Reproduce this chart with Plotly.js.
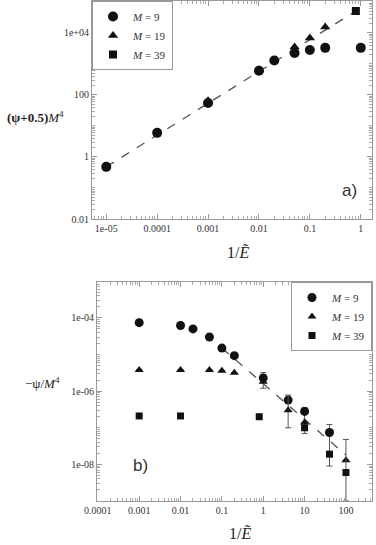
<!DOCTYPE html>
<html>
<head>
<meta charset="utf-8">
<script src="https://cdn.plot.ly/plotly-3.0.1.min.js"></script>
<style>
  html, body { margin: 0; padding: 0; background: #fff; }
  #chart { width: 376px; height: 545px; }
</style>
</head>
<body>
<div id="chart"></div>
<script>
// ---- panel a) : (psi+0.5) M^4 vs 1/E ----
const aM9x  = [1e-5, 1e-4, 1e-3, 0.01, 0.02, 0.05, 0.1, 0.2, 1];
const aM9y  = [0.48, 6, 55, 600, 1300, 2250, 2800, 3300, 3300];
const aM19x = [1e-3, 0.01, 0.05, 0.1, 0.2];
const aM19y = [65, 650, 3550, 6900, 15600];
const aM39x = [0.8];
const aM39y = [51000];
const aFitX = [1e-5, 0.8];
const aFitY = [0.48, 51000];
const aXticks = [1e-5, 1e-4, 1e-3, 0.01, 0.1, 1];
const aXlabels = ["1e-05", "0.0001", "0.001", "0.01", "0.1", "1"];
const aYticks = [0.01, 1, 100, 1e4];
const aYlabels = ["0.01", "1", "100", "1e+04"];

// ---- panel b) : -psi / M^4 vs 1/E ----
const bM9x  = [0.001, 0.01, 0.02, 0.05, 0.1, 0.2, 1, 4, 10, 40];
const bM9y  = [7.4e-5, 6.2e-5, 5e-5, 3e-5, 1.5e-5, 9.3e-6, 2.3e-6, 5.7e-7, 2.8e-7, 7.4e-8];
const bM9errUp   = [0, 0, 0, 0, 0, 0, 0.9e-6, 0, 0.8e-7, 4.9e-8];
const bM9errDown = [0, 0, 0, 0, 0, 0, 1.1e-6, 0, 2.1e-7, 6.5e-8];
const bM19x = [0.001, 0.01, 0.05, 0.1, 0.2, 1, 4, 10, 100];
const bM19y = [3.8e-6, 3.8e-6, 3.8e-6, 3.6e-6, 3.2e-6, 1.8e-6, 3e-7, 1.4e-7, 1.3e-8];
const bM19errUp   = [0, 0, 0, 0, 0, 0, 4.8e-7, 0, 0];
const bM19errDown = [0, 0, 0, 0, 0, 0, 2e-7, 0, 0];
const bM39x = [0.001, 0.01, 0.8, 10, 40, 100];
const bM39y = [2.1e-7, 2.1e-7, 2e-7, 1e-7, 1.9e-8, 6e-9];
const bM39errUp   = [0, 0, 0, 0, 0, 4.2e-8];
const bM39errDown = [0, 0, 0, 0, 0, 5e-9];
const bFitX = [0.1, 100];
const bFitY = [1.5e-5, 1.8e-8];
const bXticks = [1e-4, 1e-3, 0.01, 0.1, 1, 10, 100];
const bXlabels = ["0.0001", "0.001", "0.01", "0.1", "1", "10", "100"];
const bYticks = [1e-4, 1e-6, 1e-8];
const bYlabels = ["1e-04", "1e-06", "1e-08"];

const names = ["<i>M</i> = 9", "<i>M</i> = 19", "<i>M</i> = 39"];
const ink = "#111";
const serif = "Liberation Serif, DejaVu Serif, serif";

// minor ticks: 2..9 inside every decade, plus unlabeled decades
function minorTicks(lo, hi, labeled) {
  const out = [];
  for (let d = Math.floor(lo); d <= Math.ceil(hi); d++) {
    const p = Math.pow(10, d);
    if (!labeled.some(v => Math.abs(Math.log10(v) - d) < 1e-9)) out.push(p);
    for (let k = 2; k <= 9; k++) out.push(k * p);
  }
  return out;
}

const mk = (symbol, size) => ({ symbol, size, color: ink });
const errs = (up, down) => ({
  type: "data", symmetric: false, array: up, arrayminus: down,
  color: "#555", thickness: 1, width: 3
});

const traces = [
  // a)
  { x: aFitX, y: aFitY, mode: "lines", line: { color: "#555", width: 1.3, dash: "dash" },
    showlegend: false, xaxis: "x", yaxis: "y", hoverinfo: "skip" },
  { x: aM9x, y: aM9y, mode: "markers", name: names[0], marker: mk("circle", 10), xaxis: "x", yaxis: "y", legend: "legend" },
  { x: aM19x, y: aM19y, mode: "markers", name: names[1], marker: mk("triangle-up", 9), xaxis: "x", yaxis: "y", legend: "legend" },
  { x: aM39x, y: aM39y, mode: "markers", name: names[2], marker: mk("square", 8), xaxis: "x", yaxis: "y", legend: "legend" },
  // b)
  { x: bFitX, y: bFitY, mode: "lines", line: { color: "#555", width: 1.3, dash: "dash" },
    showlegend: false, xaxis: "x2", yaxis: "y2", hoverinfo: "skip" },
  { x: bM9x, y: bM9y, mode: "markers", name: names[0], marker: mk("circle", 9),
    error_y: errs(bM9errUp, bM9errDown), xaxis: "x2", yaxis: "y2", legend: "legend2" },
  { x: bM19x, y: bM19y, mode: "markers", name: names[1], marker: mk("triangle-up", 8),
    error_y: errs(bM19errUp, bM19errDown), xaxis: "x2", yaxis: "y2", legend: "legend2" },
  { x: bM39x, y: bM39y, mode: "markers", name: names[2], marker: mk("square", 7),
    error_y: errs(bM39errUp, bM39errDown), xaxis: "x2", yaxis: "y2", legend: "legend2" }
];

const axisBase = {
  type: "log",
  showline: true, linecolor: "#999", linewidth: 1, mirror: "ticks",
  ticks: "inside", ticklen: 5, tickcolor: "#999",
  tickfont: { family: serif, size: 10, color: "#333" },
  showgrid: false, zeroline: false,
  tickmode: "array"
};
const minorOf = (lo, hi, labeled) => ({
  tickmode: "array", tickvals: minorTicks(lo, hi, labeled),
  ticks: "inside", ticklen: 3, tickcolor: "#aaa", showgrid: false
});

const legendBase = {
  bgcolor: "#fff", bordercolor: "#999", borderwidth: 1,
  font: { family: serif, size: 11, color: "#333" },
  tracegroupgap: 0, itemwidth: 30
};

const ann = (text, x, y, size, family, color) => ({
  text, x, y, xref: "paper", yref: "paper", showarrow: false,
  xanchor: "center", yanchor: "middle",
  font: { family: family || serif, size, color: color || "#222" }
});

const layout = {
  width: 376, height: 545,
  margin: { l: 0, r: 0, t: 0, b: 0 },
  paper_bgcolor: "#fff", plot_bgcolor: "#fff",
  showlegend: true,
  xaxis: { ...axisBase, domain: [92 / 376, 372 / 376], anchor: "y",
    range: [-5.28, 0.22], tickvals: aXticks, ticktext: aXlabels,
    minor: minorOf(-6, 0, aXticks) },
  yaxis: { ...axisBase, domain: [326 / 545, 544 / 545], anchor: "x",
    range: [-2, 5.03], tickvals: aYticks, ticktext: aYlabels,
    minor: minorOf(-2, 5, aYticks) },
  xaxis2: { ...axisBase, domain: [97 / 376, 372 / 376], anchor: "y2",
    range: [-4.02, 2.63], tickvals: bXticks, ticktext: bXlabels,
    minor: minorOf(-4, 2, bXticks) },
  yaxis2: { ...axisBase, domain: [44 / 545, 263 / 545], anchor: "x2",
    range: [-9, -3.02], tickvals: bYticks, ticktext: bYlabels,
    minor: minorOf(-9, -3, bYticks) },
  legend: { ...legendBase, x: 92 / 376, y: 544 / 545, xanchor: "left", yanchor: "top" },
  legend2: { ...legendBase, x: 372 / 376, y: 263 / 545, xanchor: "right", yanchor: "top" },
  annotations: [
    ann("<b>(ψ+0.5)</b><i>M</i><sup>4</sup>", 35 / 376, (545 - 117) / 545, 13),
    ann("1/<i>Ẽ</i>", 238 / 376, (545 - 252) / 545, 16),
    ann("a)", 349 / 376, (545 - 190) / 545, 17, "Liberation Sans, Arial, sans-serif", "#333"),
    ann("−ψ/<i>M</i><sup>4</sup>", 42 / 376, (545 - 383) / 545, 13),
    ann("1/<i>Ẽ</i>", 240 / 376, (545 - 533) / 545, 16),
    ann("b)", 140 / 376, (545 - 465) / 545, 17, "Liberation Sans, Arial, sans-serif", "#333")
  ]
};

Plotly.newPlot("chart", traces, layout, { displayModeBar: false, staticPlot: true });
</script>
</body>
</html>
